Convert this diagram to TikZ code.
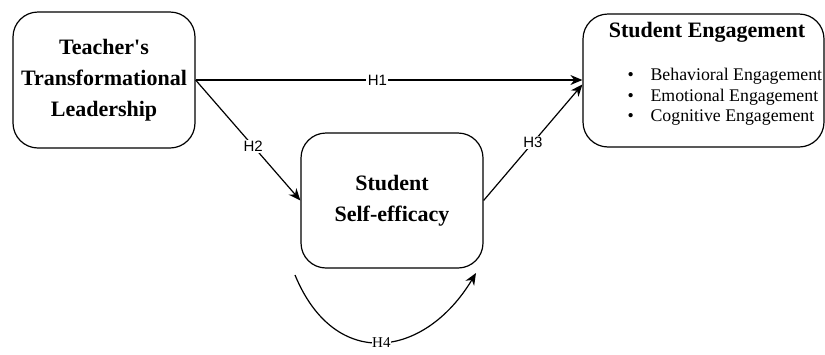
\documentclass[tikz,border=0pt]{standalone}
\usepackage{fontspec}
\setmainfont{Liberation Serif}
\newfontfamily\labelfont{Liberation Sans}
\usetikzlibrary{arrows.meta}

\begin{document}
\begin{tikzpicture}[x=1pt, y=-1pt, line width=1.2pt,
  box/.style={draw, rounded corners=25pt, inner sep=0pt, align=center, font=\fontsize{22}{31}\selectfont\bfseries},
  arr/.style={-{Stealth[length=12pt, width=10pt]}},
  lbl/.style={fill=white, inner sep=1.5pt, font=\fontsize{15}{15}\selectfont\labelfont}]
  \useasboundingbox (0,0) rectangle (825,354);
  % boxes
  \node[box, minimum width=182pt, minimum height=136pt] (tl) at (104,80) {Teacher\textquotesingle s\\Transformational\\Leadership};
  \node[box, minimum width=182pt, minimum height=135pt] (se) at (392,200.5) {Student\\Self-efficacy};
  \node[box, minimum width=241pt, minimum height=133pt] (eng) at (703.5,80.5) {};
  \node[font=\fontsize{22}{26}\selectfont\bfseries] (engtitle) at (707,32) {Student Engagement};
  \node[anchor=west, align=left, inner sep=0pt, font=\fontsize{17.8}{20.5}\selectfont] (engitems) at (627,97)
    {\makebox[23pt][l]{\textbullet}Behavioral Engagement\\
     \makebox[23pt][l]{\textbullet}Emotional Engagement\\
     \makebox[23pt][l]{\textbullet}Cognitive Engagement};
  % hypotheses
  \draw[arr] (tl.east) -- node[lbl, pos=0.47] {H1} (tl.east -| eng.west);
  \draw[arr] (tl.east) -- node[lbl, pos=0.55] {H2} (se.west);
  \draw[arr] (se.east) -- node[lbl] {H3} ([yshift=-4pt]eng.west);
  \coordinate (h4a) at (295,275);
  \coordinate (h4b) at (476,273);
  \draw[arr] (h4a) .. controls (335,372) and (425,358) .. node[lbl, pos=0.5, font=\fontsize{15}{15}\selectfont\rmfamily, inner sep=0.5pt] (h4) {H4} (h4b);
\end{tikzpicture}
\end{document}
